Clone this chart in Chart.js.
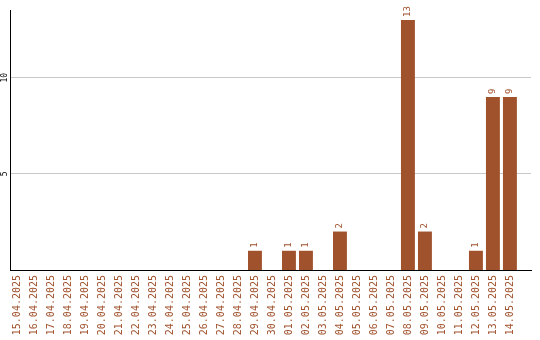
<!DOCTYPE html>
<html>
<head>
<meta charset="utf-8">
<script src="https://cdn.jsdelivr.net/npm/chart.js@4/dist/chart.umd.min.js"></script>
<style>
  html, body { margin: 0; padding: 0; background: #fff; }
</style>
</head>
<body>
<canvas id="dayChart" width="540" height="340"></canvas>
<script>
//data arrays
const days = [
    '15.04.2025', '16.04.2025', '17.04.2025', '18.04.2025', '19.04.2025', '20.04.2025',
    '21.04.2025', '22.04.2025', '23.04.2025', '24.04.2025', '25.04.2025', '26.04.2025',
    '27.04.2025', '28.04.2025', '29.04.2025', '30.04.2025', '01.05.2025', '02.05.2025',
    '03.05.2025', '04.05.2025', '05.05.2025', '06.05.2025', '07.05.2025', '08.05.2025',
    '09.05.2025', '10.05.2025', '11.05.2025', '12.05.2025', '13.05.2025', '14.05.2025'
];
const counts = [
    0, 0, 0, 0, 0, 0,
    0, 0, 0, 0, 0, 0,
    0, 0, 1, 0, 1, 1,
    0, 2, 0, 0, 0, 13,
    2, 0, 0, 1, 9, 9
];
const yTicks = [5, 10];

const barColor = '#a0522d';

//value labels above bars + rotated y tick labels
const labelPlugin = {
    id: 'labelPlugin',
    afterDatasetsDraw(chart) {
        const ctx = chart.ctx;
        const meta = chart.getDatasetMeta(0);
        const yScale = chart.scales.y;
        ctx.save();
        ctx.fillStyle = barColor;
        ctx.font = '9px "DejaVu Sans Mono"';
        ctx.textAlign = 'left';
        ctx.textBaseline = 'middle';
        meta.data.forEach((bar, i) => {
            if (!counts[i]) return;
            ctx.save();
            ctx.translate(bar.x, bar.y - 3);
            ctx.rotate(-Math.PI / 2);
            ctx.fillText(String(counts[i]), 0, 0);
            ctx.restore();
        });
        ctx.fillStyle = '#000';
        ctx.font = '8px "DejaVu Sans Mono"';
        ctx.textAlign = 'center';
        yTicks.forEach((v) => {
            ctx.save();
            ctx.translate(5, yScale.getPixelForValue(v));
            ctx.rotate(-Math.PI / 2);
            ctx.fillText(String(v), 0, 0);
            ctx.restore();
        });
        ctx.restore();
    }
};

let config = {
    type: 'bar',
    data: {
        labels: days,
        datasets: [{
            data: counts,
            backgroundColor: barColor,
            borderWidth: 0,
            barPercentage: 0.82,
            categoryPercentage: 1
        }]
    },
    options: {
        responsive: false,
        animation: false,
        devicePixelRatio: 1,
        layout: { padding: { top: 10, right: 9, left: 0, bottom: 0 } },
        plugins: {
            legend: { display: false },
            tooltip: { enabled: false }
        },
        scales: {
            x: {
                offset: true,
                grid: { display: false, drawTicks: false },
                border: { display: true, color: '#000', width: 1 },
                ticks: {
                    autoSkip: false,
                    minRotation: 90,
                    maxRotation: 90,
                    padding: 5,
                    color: barColor,
                    font: { family: 'DejaVu Sans Mono', size: 10 }
                },
                afterBuildTicks: (s) => {
                    // category spacing as in the reference (17px per day)
                    s._valueRange = 30.65;
                    s._startValue = -0.41;
                },
                afterFit: (s) => { s.height = 70; }
            },
            y: {
                min: 0,
                max: 13.52,
                grid: { color: '#c8c8c8', drawTicks: false },
                border: { display: true, color: '#000', width: 1 },
                ticks: { display: false },
                afterBuildTicks: (s) => {
                    s.ticks = yTicks.map((v) => ({ value: v }));
                },
                afterFit: (s) => { s.width = 10; }
            }
        }
    },
    plugins: [labelPlugin]
};

new Chart(document.getElementById('dayChart'), config);
</script>
</body>
</html>
